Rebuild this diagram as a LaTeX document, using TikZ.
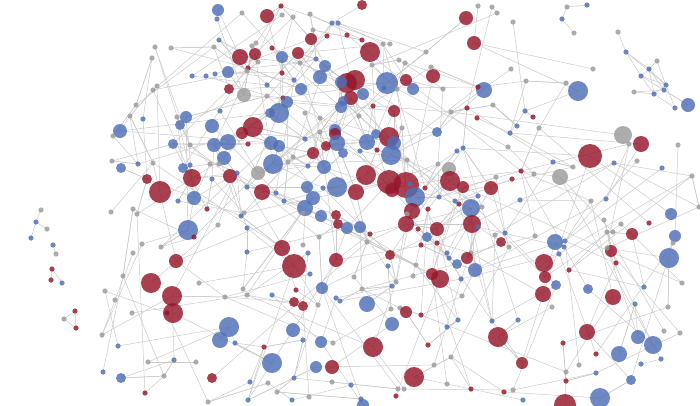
\documentclass[tikz,border=0pt]{standalone}
\usepackage{tikz}
\usetikzlibrary{backgrounds}

\definecolor{netb}{RGB}{78,110,182}
\definecolor{netr}{RGB}{150,22,42}
\definecolor{netg}{RGB}{155,155,155}
\definecolor{netline}{RGB}{202,202,202}

\tikzset{
  netdot/.style={circle, inner sep=0pt, draw=none, fill opacity=0.82,
    minimum size={2*max(#1,2.6)}},
  netlink/.style={draw=netline, line width=0.5pt}
}

\begin{document}
\begin{tikzpicture}[x=1pt, y=-1pt]
    \useasboundingbox (0,0) rectangle (700,405);

    % main graph
    \foreach \x/\y/\r/\c [count=\i] in {
        218/10/6/b, 242/13/0/g, 217/19/0/b, 267/16/7/r, 281/6/0/r, 282/15/0/g, 293/17/0/g,
        219/40/0/b, 214/47/0/g, 155/47/0/g, 171/48/0/g, 152/58/0/g,
        240/57/8/r, 255/54/6/r, 252/46/0/g, 256/43/0/g, 272/48/0/r, 282/57/6/b, 298/53/6/r,
        258/62/0/g, 248/68/0/r, 247/71/0/g, 282/73/0/r, 294/80/0/b, 300/63/0/g,
        192/76/0/b, 206/76/0/b, 215/74/0/b, 228/72/6/b,
        157/86/0/g, 153/90/0/g, 229/89/5/r, 244/95/7/g, 267/85/0/b, 267/96/0/g, 283/98/0/r,
        287/102/6/b, 279/113/10/b, 270/113/5/b, 301/89/6/b,
        136/105/0/g, 130/116/0/g, 143/119/0/b, 220/111/0/b, 177/117/0/g, 186/117/6/b,
        180/125/5/b, 120/131/7/b, 212/126/7/b, 253/127/10/r, 242/133/6/r,
        362/5/5/r, 310/14/0/g, 332/23/0/b, 338/23/0/b, 327/36/0/r, 347/35/0/r, 313/30/0/g,
        311/39/6/r, 370/52/10/r, 383/44/0/g, 390/44/0/g, 362/40/0/r, 316/59/0/b, 325/66/6/b,
        320/77/7/b, 347/83/10/r, 355/80/10/r, 341/82/6/b, 387/83/11/b, 406/80/6/r, 433/76/7/r,
        413/89/6/b, 399/60/0/g, 405/63/0/g, 426/52/0/g, 431/67/0/g, 372/65/0/g, 351/98/7/r,
        363/94/6/b, 343/101/5/b, 341/107/6/b, 384/88/0/b, 397/89/0/g, 394/111/6/r, 373/106/0/r,
        359/116/0/g, 320/118/0/g, 305/113/0/g,
        466/18/7/r, 474/43/7/r, 478/6/0/g, 492/7/0/g, 497/13/0/g, 484/90/8/b, 478/87/0/r,
        443/89/0/g, 493/105/0/g, 467/108/0/r, 477/118/0/r, 451/112/0/g,
        513/22/0/g, 593/69/0/g, 566/83/0/g, 578/91/10/b, 511/69/0/g, 526/81/0/g, 525/111/0/b,
        533/117/0/r, 517/126/0/b, 539/128/0/g,
        113/136/0/g, 173/144/5/b, 190/145/0/g, 214/145/7/b, 228/142/8/b, 248/144/0/r,
        271/143/7/b, 279/146/6/b, 112/161/0/g, 121/168/5/b, 138/164/0/b, 153/163/0/g,
        224/158/7/b, 183/168/5/b, 190/165/0/b, 210/164/0/g, 219/164/0/g, 273/164/10/b,
        258/173/7/g, 288/162/0/g, 293/157/0/g, 147/179/5/r, 160/192/11/r, 192/178/9/r,
        212/179/0/b, 230/176/7/r, 237/173/0/b, 247/187/0/b, 262/192/8/r, 276/193/0/b,
        194/198/7/b, 178/201/0/b, 284/201/0/b, 111/212/0/g, 133/209/0/g, 137/214/0/g,
        207/209/0/r, 244/213/0/g, 241/216/0/b, 218/225/0/g, 188/230/10/b, 194/237/0/r,
        247/228/0/b, 142/244/0/g, 161/247/0/g, 133/253/0/g, 247/252/0/b, 282/248/8/r,
        176/261/7/r, 294/266/12/r,
        335/130/6/b, 335/134/6/r, 305/139/0/b, 320/132/0/g, 337/143/8/b, 326/146/5/r,
        313/153/6/r, 343/153/5/b, 367/142/8/b, 376/134/5/b, 389/137/10/r, 394/143/7/b,
        391/155/10/b, 377/150/0/r, 360/151/0/b, 402/128/0/g, 437/132/5/b, 457/151/0/b,
        463/148/0/b, 407/160/0/g, 438/164/0/g, 324/167/7/b, 308/166/0/b, 366/175/10/r,
        337/187/10/b, 356/192/8/r, 323/188/0/b, 389/182/12/r, 406/185/13/r, 392/190/7/r,
        415/197/10/b, 410/184/0/b, 425/188/0/r, 449/169/7/g, 450/181/10/r, 463/187/6/r,
        491/188/7/r, 496/177/0/g, 478/196/0/b, 439/197/0/b, 307/187/6/b, 313/198/7/b,
        305/208/8/b, 303/213/0/g, 321/216/6/b, 336/215/5/r, 338/224/5/r, 347/228/6/b,
        360/227/6/b, 370/234/0/r, 367/242/0/g, 412/211/8/r, 407/214/0/g, 428/209/0/r,
        406/224/8/r, 418/229/0/r, 427/237/5/b, 437/229/7/r, 421/245/0/r, 437/243/0/r,
        455/201/0/b, 459/204/0/r, 471/208/9/b, 482/207/0/g, 472/224/9/r, 495/235/0/g,
        501/242/5/r, 478/227/0/b, 319/237/0/g, 308/253/0/b, 303/245/0/g, 336/260/7/r,
        390/255/5/r, 388/266/0/b, 416/265/0/g, 447/253/0/b, 449/258/0/b, 471/253/0/g,
        467/258/6/r, 457/264/5/b,
        623/135/9/g, 641/144/8/r, 629/144/0/g, 678/145/0/g, 590/156/12/r, 637/161/0/g,
        614/163/0/b, 662/168/0/b, 692/176/0/g, 573/167/0/g, 553/162/0/b, 560/177/8/g,
        521/171/0/r, 512/179/0/r, 534/174/0/g, 508/147/0/g, 510/133/0/b, 520/200/0/b,
        591/201/0/g, 606/199/0/b, 671/214/6/b, 699/207/0/g, 604/220/0/g, 621/224/0/g,
        649/223/0/r, 632/234/6/r, 675/236/6/b, 607/232/0/g, 613/232/0/g, 673/243/0/g,
        555/242/8/b, 565/241/0/b, 564/247/0/b, 559/254/0/b, 535/236/0/g, 505/233/0/b,
        509/247/0/g, 611/251/6/r, 607/248/0/g, 616/263/0/r, 669/258/10/b, 544/263/9/r,
        123/276/0/g, 151/283/10/r, 105/291/0/g, 115/300/0/g, 172/296/10/r, 173/313/10/r,
        167/313/0/r, 132/313/0/g, 199/283/0/g, 243/289/0/g, 247/295/0/g, 225/297/0/g,
        272/295/0/b, 294/302/5/r, 296/290/0/r, 229/327/10/b, 220/340/8/b, 235/343/0/b,
        293/330/7/b, 264/347/0/r, 102/335/0/g, 118/346/0/b, 148/362/0/g, 174/360/0/b,
        196/362/0/g, 164/376/0/g, 272/363/10/b, 103/372/0/b, 121/378/5/b, 212/378/5/r,
        250/382/0/b, 268/383/0/g, 277/392/0/g, 294/378/0/b, 292/400/0/b, 248/400/0/b,
        208/402/0/g, 145/393/0/r,
        322/288/6/b, 303/306/5/r, 367/304/8/b, 354/277/0/g, 362/289/0/g, 336/298/0/b,
        340/301/0/b, 318/305/0/g, 310/274/0/b, 392/286/0/b, 396/282/0/g, 413/276/0/g,
        432/274/6/r, 440/279/9/r, 475/270/7/b, 461/279/0/b, 462/296/0/g, 391/309/0/g,
        400/308/0/g, 406/312/6/r, 421/315/0/r, 392/324/7/b, 458/320/0/b, 447/327/0/b,
        492/321/0/b, 498/337/10/r, 321/342/6/b, 303/340/0/b, 333/343/0/g, 373/347/10/r,
        428/345/0/r, 451/357/0/g, 434/365/0/g, 316/367/6/b, 332/367/7/r, 332/382/0/g,
        351/385/0/b, 414/377/10/r, 447/384/0/g, 471/389/0/r, 398/389/0/g, 404/389/0/g,
        396/396/0/r, 309/397/0/g, 361/399/0/b, 363/405/6/b,
        545/277/6/r, 543/294/8/r, 556/285/5/b, 569/270/0/r, 588/289/5/b, 613/297/8/r,
        644/287/0/b, 682/283/0/g, 635/304/0/b, 668/307/0/g, 552/307/0/g, 518/320/0/b,
        587/332/8/r, 563/343/0/r, 638/337/7/b, 653/345/9/b, 619/354/8/b, 664/331/0/g,
        680/333/0/g, 596/354/0/r, 641/364/0/b, 661/359/0/b, 579/365/0/g, 596/373/0/b,
        631/380/5/b, 522/363/6/r, 566/372/0/g, 566/381/0/r, 504/392/0/r, 513/390/0/g,
        523/400/0/b, 600/398/10/b, 565/405/11/r} {
        \node[netdot=\r, fill=net\c] (n\i) at (\x,\y) {};
        \expandafter\xdef\csname nx\i\endcsname{\x}
        \expandafter\xdef\csname ny\i\endcsname{\y}
        \xdef\nodecount{\i}
    }

    % small groups away from the main graph
    \foreach \x/\y/\r/\c/\nm in {
        41/210/0/g/l1, 36/222/0/b/l2, 47/229/0/g/l3, 31/238/0/b/l4, 53/245/0/b/l5,
        56/254/0/g/l6, 52/269/0/r/l7, 51/280/0/r/l8, 62/283/0/b/l9, 75/311/0/r/l10,
        64/319/0/g/l11, 76/328/0/r/l12,
        618/32/0/g/k1, 626/52/0/b/k2, 657/61/0/g/k3, 649/69/0/b/k4, 641/76/0/b/k5,
        634/92/0/g/k6, 654/94/0/b/k7, 664/90/0/b/k8, 666/85/0/b/k9, 675/108/0/b/k10,
        688/105/7/b/k11,
        567/7/0/g/t1, 587/5/0/b/t2, 562/19/0/b/t3, 574/33/0/g/t4}
        \node[netdot=\r, fill=net\c] (\nm) at (\x,\y) {};

    \begin{scope}[on background layer]
        \foreach \a/\b in {l1/l2, l2/l3, l2/l4, l5/l6, l7/l8, l7/l9, l10/l11, l11/l12, l10/l12,
            k1/k2, k2/k4, k2/k5, k4/k3, k4/k5, k4/k9, k4/k8, k5/k9, k5/k7, k5/k11, k3/k9,
            k6/k8, k6/k7, k7/k9, k8/k11, k9/k10, k7/k10, k4/k7, k2/k9,
            t1/t2, t1/t3, t3/t4}
            \draw[netlink] (\a.center) -- (\b.center);

        % links of the main graph: near pairs often, far pairs seldom
        \pgfmathsetseed{31}
        \foreach \i in {1,...,\nodecount} {
            \edef\xa{\csname nx\i\endcsname}
            \edef\ya{\csname ny\i\endcsname}
            \xdef\bestd{9999}
            \xdef\best{\i}
            \foreach \t in {1,...,20} {
                \pgfmathtruncatemacro\jj{random(1,\nodecount)}
                \edef\xb{\csname nx\jj\endcsname}
                \edef\yb{\csname ny\jj\endcsname}
                \pgfmathsetmacro\linkdist{veclen(\xa-\xb,\ya-\yb)}
                \pgfmathsetmacro\linkrnd{rnd}
                \pgfmathtruncatemacro\linkhit{or(and(\linkdist<55,\linkrnd<0.65),and(\linkdist<160,\linkrnd<0.05))}
                \ifnum\linkhit=1 \draw[netlink] (n\i.center) -- (n\jj.center); \fi
                \pgfmathtruncatemacro\closer{and(\linkdist<\bestd,\linkdist>0.5)}
                \ifnum\closer=1 \xdef\bestd{\linkdist}\xdef\best{\jj}\fi
            }
            \draw[netlink] (n\i.center) -- (n\best.center);
        }
    \end{scope}
\end{tikzpicture}
\end{document}
